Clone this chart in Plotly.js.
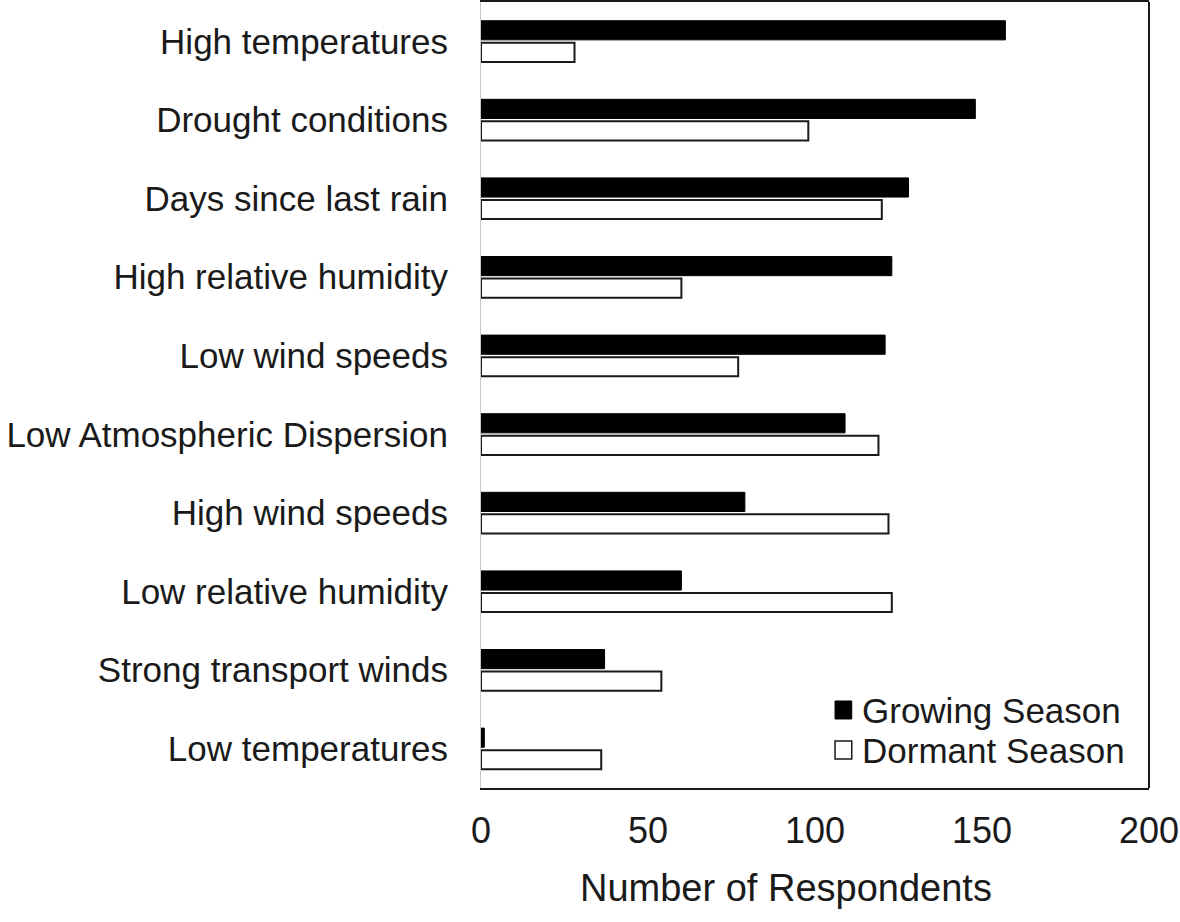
<!DOCTYPE html>
<html>
<head>
<meta charset="utf-8">
<script src="https://cdn.plot.ly/plotly-3.0.1.min.js"></script>
<style>html,body{margin:0;padding:0;background:#fff;}</style>
</head>
<body>
<div id="chart" style="width:1180px;height:922px;"></div>
<script>
const categories = [
  "High temperatures",
  "Drought conditions",
  "Days since last rain",
  "High relative humidity",
  "Low wind speeds",
  "Low Atmospheric Dispersion",
  "High wind speeds",
  "Low relative humidity",
  "Strong transport winds",
  "Low temperatures"
];
const growingSeason = [157, 148, 128, 123, 121, 109, 79, 60, 37, 1];
const dormantSeason = [28, 98, 120, 60, 77, 119, 122, 123, 54, 36];
const xTicks = [0, 50, 100, 150, 200];
const seriesNames = ["Growing Season", "Dormant Season"];

const fontFamily = 'Liberation Sans';
const textColor = '#1a1a1a';

const traces = [
  {
    type: 'bar', orientation: 'h', name: seriesNames[0],
    y: categories, x: growingSeason,
    marker: {color: '#000000', line: {color: '#000000', width: 1}}
  },
  {
    type: 'bar', orientation: 'h', name: seriesNames[1],
    y: categories, x: dormantSeason,
    marker: {color: '#ffffff', line: {color: '#1a1a1a', width: 2}}
  }
];

const layout = {
  width: 1180, height: 922,
  margin: {l: 481, r: 31, t: 2, b: 134},
  paper_bgcolor: '#ffffff', plot_bgcolor: '#ffffff',
  font: {family: fontFamily, color: textColor, size: 35},
  barmode: 'group',
  bargap: 0.44,
  bargroupgap: 0.13,
  showlegend: false,
  xaxis: {
    range: [0, 200], tickvals: xTicks, ticktext: xTicks.map(String),
    showgrid: false, zeroline: false,
    showline: true, mirror: true, linecolor: '#1a1a1a', linewidth: 2,
    ticks: '', ticklabelstandoff: 10,
    tickfont: {size: 36, family: fontFamily, color: textColor},
    fixedrange: true
  },
  yaxis: {
    type: 'category', categoryorder: 'array', categoryarray: categories,
    autorange: 'reversed',
    showgrid: false, zeroline: false,
    showline: true, linecolor: '#c8c8c8', linewidth: 1,
    ticks: '', ticklabelstandoff: 25,
    tickfont: {size: 35, family: fontFamily, color: textColor},
    fixedrange: true
  },
  shapes: [
    {type: 'line', xref: 'paper', yref: 'paper', x0: 1, x1: 1, y0: 0, y1: 1,
     line: {color: '#1a1a1a', width: 2}},
    {type: 'rect', xref: 'paper', yref: 'paper', x0: 0.530, x1: 0.555, y0: 0.0878, y1: 0.1107,
     fillcolor: '#000000', line: {color: '#000000', width: 1}},
    {type: 'rect', xref: 'paper', yref: 'paper', x0: 0.530, x1: 0.555, y0: 0.0369, y1: 0.0598,
     fillcolor: '#ffffff', line: {color: '#1a1a1a', width: 1.5}}
  ],
  annotations: [
    {text: 'Number of Respondents', xref: 'paper', yref: 'paper',
     x: 0.457, y: 0, yshift: -100, xanchor: 'center', yanchor: 'middle',
     showarrow: false, font: {size: 38, family: fontFamily, color: textColor}},
    {text: seriesNames[0], xref: 'paper', yref: 'paper', x: 0.568, y: 0.0992,
     xanchor: 'left', yanchor: 'middle', showarrow: false,
     font: {size: 35, family: fontFamily, color: textColor}},
    {text: seriesNames[1], xref: 'paper', yref: 'paper', x: 0.568, y: 0.0483,
     xanchor: 'left', yanchor: 'middle', showarrow: false,
     font: {size: 35, family: fontFamily, color: textColor}}
  ]
};

Plotly.newPlot('chart', traces, layout, {displayModeBar: false, staticPlot: true});
</script>
</body>
</html>
